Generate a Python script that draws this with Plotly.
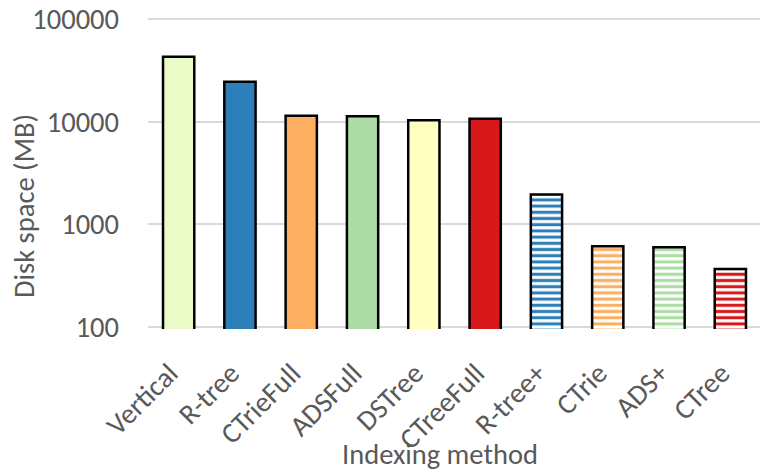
import plotly.graph_objects as go

categories = ["Vertical", "R-tree", "CTrieFull", "ADSFull", "DSTree", "CTreeFull",
              "R-tree+", "CTrie", "ADS+", "CTree"]
disk_mb = [43000, 24500, 11400, 11300, 10300, 10700, 1950, 610, 598, 366]
colors = ["#EAFBC8", "#2C7FB8", "#FDAE61", "#ABDDA4", "#FFFFBF", "#D7191C",
          "#2C7FB8", "#FDAE61", "#ABDDA4", "#D7191C"]
striped = [False] * 6 + [True] * 4
ytick_vals = [100, 1000, 10000, 100000]
ytick_text = ["100", "1000", "10000", "100000"]

font_family = "Calibri, Carlito, sans-serif"
FS = 28.5
TXT = "#595959"

fig = go.Figure()

solid_idx = [i for i, s in enumerate(striped) if not s]
fig.add_trace(go.Bar(
    x=[categories[i] for i in solid_idx],
    y=[disk_mb[i] for i in solid_idx],
    marker=dict(color=[colors[i] for i in solid_idx],
                line=dict(color="black", width=2.5)),
    width=0.51,
))
for i, s in enumerate(striped):
    if not s:
        continue
    fig.add_trace(go.Bar(
        x=[categories[i]], y=[disk_mb[i]],
        marker=dict(
            color="white",
            line=dict(color="black", width=2.5),
            pattern=dict(shape="-", fgcolor=colors[i], bgcolor="white",
                         size=6.2, solidity=0.5, fillmode="overlay",
                         fgopacity=1),
        ),
        width=0.51,
    ))

# figure is drawn 8px in from the page corner (body margin)
PL, PR, PT, PB = 140, 7, 9, 144
W, H = 760, 465
ph = H - PT - PB
pw = W - PL - PR
fig.update_layout(
    width=W, height=H,
    margin=dict(l=PL, r=PR, t=PT, b=PB, autoexpand=False),
    plot_bgcolor="white", paper_bgcolor="white",
    barmode="overlay", showlegend=False,
    font=dict(family=font_family, color=TXT, size=FS),
    annotations=[
        dict(text="Indexing method", xref="paper", yref="paper",
             x=(432 - PL) / pw, y=-(447 - (H - PB)) / ph,
             xanchor="center", yanchor="middle", showarrow=False,
             font=dict(size=FS, color=TXT)),
        dict(text="Disk space (MB)", xref="paper", yref="paper",
             x=-(PL - 16) / pw, y=((H - PB) - 198) / ph,
             xanchor="center", yanchor="middle", showarrow=False,
             textangle=-90, font=dict(size=FS, color=TXT)),
    ],
)
fig.update_yaxes(
    type="log", range=[1.98, 5.02], tickvals=ytick_vals, ticktext=ytick_text,
    showgrid=True, gridcolor="#D9D9D9", gridwidth=2, zeroline=False,
    ticklabelstandoff=28, showline=False, automargin=False,
    ticklabeloverflow="allow",
    tickfont=dict(size=FS),
)
fig.update_xaxes(
    categoryorder="array", categoryarray=categories,
    tickangle=-45, showline=False, showgrid=False, automargin=False,
    ticklabeloverflow="allow",
    tickfont=dict(size=FS), ticklabelshift=-9, ticklabelstandoff=21,
)

fig.write_html("out.html")
